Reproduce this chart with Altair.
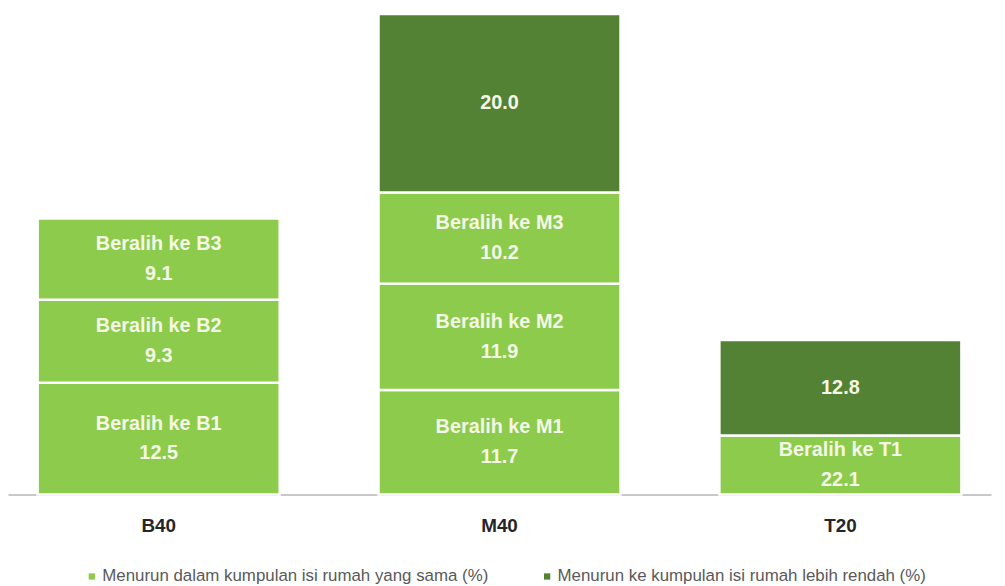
import altair as alt
import pandas as pd

# ---- data ----
groups = ["B40", "M40", "T20"]
seg_group = ["B40", "B40", "B40", "M40", "M40", "M40", "M40", "T20", "T20"]
seg_name = ["Beralih ke B1", "Beralih ke B2", "Beralih ke B3",
            "Beralih ke M1", "Beralih ke M2", "Beralih ke M3", "",
            "Beralih ke T1", ""]
seg_value = [12.5, 9.3, 9.1, 11.7, 11.9, 10.2, 20.0, 22.1, 12.8]
# drawn heights of the segments as they appear in the picture
seg_height = [12.5, 9.3, 9.1, 11.7, 11.9, 10.2, 20.0, 6.6, 10.7]
series = ["Menurun dalam kumpulan isi rumah yang sama (%)",
          "Menurun ke kumpulan isi rumah lebih rendah (%)"]
seg_series = [0, 0, 0, 0, 0, 0, 1, 0, 1]
colors = ["#8DCB4C", "#548235"]

# ---- build table ----
rows = []
base = {g: 0.0 for g in groups}
for g, n, v, h, s in zip(seg_group, seg_name, seg_value, seg_height, seg_series):
    y0 = base[g]
    y1 = y0 + h
    base[g] = y1
    rows.append({"group": g, "series": series[s], "y0": y0, "y1": y1,
                 "mid": (y0 + y1) / 2, "name": n, "value": f"{v:.1f}",
                 "two": bool(n)})
df = pd.DataFrame(rows)

FONT = "Liberation Sans, Arial, sans-serif"

x_enc = alt.X("group:N", sort=groups, title=None,
              scale=alt.Scale(paddingInner=0.29, paddingOuter=0.087),
              axis=alt.Axis(labelAngle=0, ticks=False, domainColor="#C8C8C8",
                            domainWidth=2, labelFont=FONT, labelFontSize=19,
                            labelFontWeight="bold", labelColor="#262626",
                            labelPadding=22))
y_scale = alt.Scale(domain=[0, 54.2], nice=False)

bars = alt.Chart(df).mark_bar(stroke="white", strokeWidth=2.5).encode(
    x=x_enc,
    y=alt.Y("y0:Q", scale=y_scale, axis=None),
    y2="y1:Q",
    color=alt.Color("series:N", sort=series,
                    scale=alt.Scale(domain=series, range=colors),
                    legend=alt.Legend(title=None, orient="none",
                                      direction="horizontal",
                                      legendX=76, legendY=562,
                                      symbolType="square", symbolSize=40,
                                      symbolStrokeWidth=0,
                                      labelFont=FONT, labelFontSize=17,
                                      labelColor="#595959", labelLimit=600,
                                      columnPadding=50, labelOffset=2)),
)

text_style = dict(color="#F4F8E6", font=FONT, fontSize=20, fontWeight="bold",
                  baseline="middle", align="center")

x_plain = alt.X("group:N", sort=groups)
y_mid = alt.Y("mid:Q", scale=y_scale)

name_text = alt.Chart(df).transform_filter("datum.two").mark_text(
    dy=-15, **text_style).encode(x=x_plain, y=y_mid, text="name:N")
value_two = alt.Chart(df).transform_filter("datum.two").mark_text(
    dy=15, **text_style).encode(x=x_plain, y=y_mid, text="value:N")
value_one = alt.Chart(df).transform_filter("!datum.two").mark_text(
    **text_style).encode(x=x_plain, y=y_mid, text="value:N")

chart = (bars + name_text + value_two + value_one).properties(
    width=991, height=488,
    autosize=alt.AutoSizeParams(type="none"),
    padding={"left": 0, "top": 0, "right": 6, "bottom": 90},
).configure_view(stroke=None)

chart.save("out.html", embed_options={"renderer": "svg", "actions": False})
